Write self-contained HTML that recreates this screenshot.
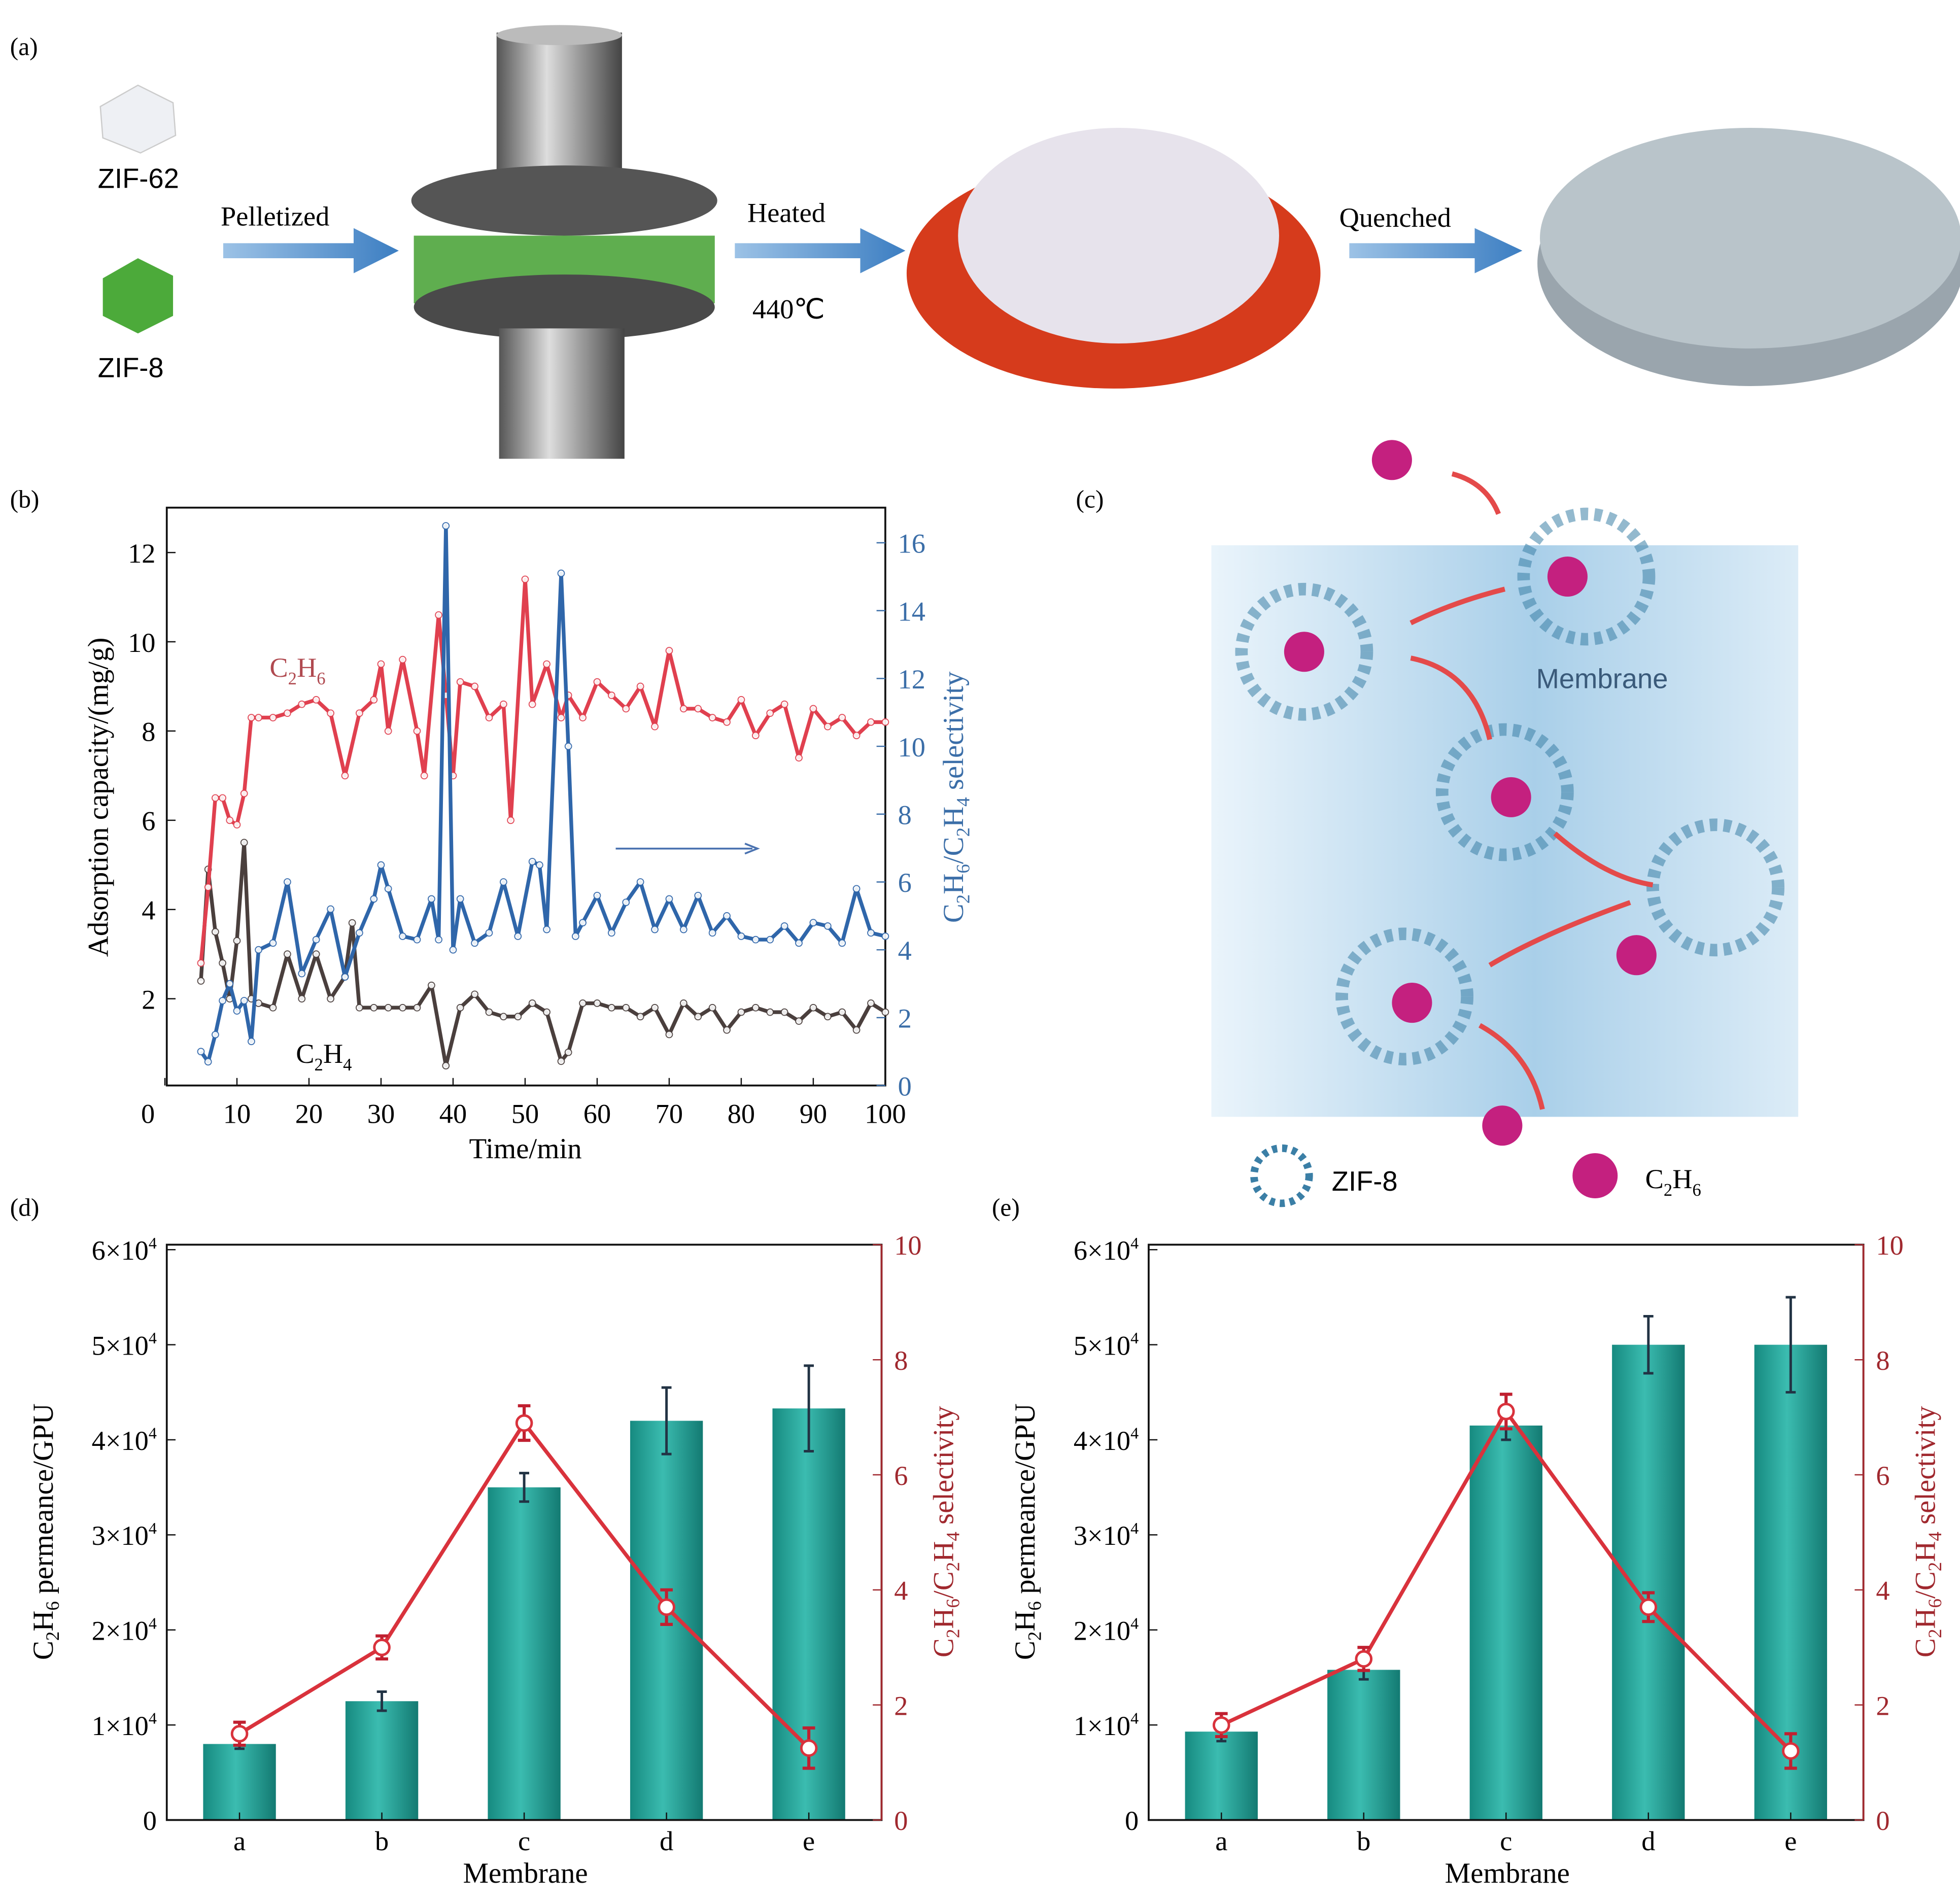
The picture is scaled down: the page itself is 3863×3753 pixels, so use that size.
<!DOCTYPE html>
<html><head><meta charset="utf-8">
<style>
html,body{margin:0;padding:0;background:#fff;}
svg{display:block;font-family:"Liberation Serif",serif;}
</style></head>
<body>
<svg id="root" width="3863" height="3753" viewBox="0 0 1563 1519" preserveAspectRatio="none" xmlns="http://www.w3.org/2000/svg">
<defs>
<linearGradient id="cyl" x1="0" x2="1"><stop offset="0" stop-color="#555"/><stop offset="0.4" stop-color="#ddd"/><stop offset="1" stop-color="#444"/></linearGradient>
<linearGradient id="bar" x1="0" x2="1"><stop offset="0" stop-color="#168a80"/><stop offset="0.45" stop-color="#3bbcb0"/><stop offset="1" stop-color="#137a72"/></linearGradient>
<linearGradient id="memb" x1="0" x2="1"><stop offset="0" stop-color="#eaf4fb"/><stop offset="0.55" stop-color="#a9cfe9"/><stop offset="1" stop-color="#dcecf7"/></linearGradient>
<linearGradient id="arr" x1="0" x2="1"><stop offset="0" stop-color="#9cc2e6"/><stop offset="1" stop-color="#3c7ec2"/></linearGradient>
</defs>

<!-- Panel (a) -->
<g>
<text x="8" y="44" font-size="20">(a)</text>
<polygon points="80,85 110,68 138,82 140,108 112,122 82,110" fill="#eef0f4" stroke="#ccc"/>
<text x="78" y="150" font-size="22" font-family="Liberation Sans,sans-serif">ZIF-62</text>
<polygon points="82,222 110,206 138,220 138,252 110,266 82,252" fill="#4caa3a"/>
<text x="78" y="301" font-size="22" font-family="Liberation Sans,sans-serif">ZIF-8</text>
<text x="176" y="180" font-size="22">Pelletized</text>
<polygon points="178,194 282,194 282,182 318,200 282,218 282,206 178,206" fill="url(#arr)"/>
<rect x="396" y="26" width="100" height="150" fill="url(#cyl)"/>
<ellipse cx="446" cy="28" rx="50" ry="8" fill="#bbb"/>
<ellipse cx="450" cy="160" rx="122" ry="28" fill="#555"/>
<rect x="330" y="188" width="240" height="54" fill="#5fae4f"/>
<ellipse cx="450" cy="245" rx="120" ry="26" fill="#4a4a4a"/>
<rect x="398" y="262" width="100" height="104" fill="url(#cyl)"/>
<text x="596" y="177" font-size="22">Heated</text>
<polygon points="586,194 686,194 686,182 722,200 686,218 686,206 586,206" fill="url(#arr)"/>
<text x="600" y="254" font-size="22">440℃</text>
<ellipse cx="888" cy="218" rx="165" ry="92" fill="#d63b1c"/>
<ellipse cx="892" cy="188" rx="128" ry="86" fill="#e7e3ec"/>
<text x="1068" y="181" font-size="22">Quenched</text>
<polygon points="1076,194 1176,194 1176,182 1214,200 1176,218 1176,206 1076,206" fill="url(#arr)"/>
<ellipse cx="1396" cy="210" rx="170" ry="98" fill="#9aa5ad"/>
<ellipse cx="1396" cy="190" rx="168" ry="88" fill="#b9c4ca"/>
</g>

<!-- Panel (c) -->
<g>
<text x="858" y="405" font-size="20">(c)</text>
<rect x="966" y="435" width="468" height="456" fill="url(#memb)"/>
<text x="1225" y="549" font-size="22" fill="#3a5a7a" font-family="Liberation Sans,sans-serif">Membrane</text>
<g fill="none" stroke="#3b7fa6" stroke-width="10" stroke-dasharray="6 5" opacity="0.55">
<circle cx="1265" cy="460" r="50"/><circle cx="1040" cy="520" r="50"/><circle cx="1200" cy="632" r="50"/><circle cx="1368" cy="708" r="50"/><circle cx="1120" cy="795" r="50"/>
</g>
<g fill="#c4207f">
<circle cx="1110" cy="367" r="16"/><circle cx="1250" cy="460" r="16"/><circle cx="1040" cy="520" r="16"/><circle cx="1205" cy="636" r="16"/><circle cx="1305" cy="762" r="16"/><circle cx="1126" cy="800" r="16"/><circle cx="1198" cy="898" r="16"/>
</g>
<g fill="none" stroke="#e44a4a" stroke-width="4">
<path d="M1158,378 Q1185,385 1195,410"/><path d="M1200,470 Q1160,480 1125,497"/><path d="M1125,525 Q1175,535 1188,590"/><path d="M1240,665 Q1280,700 1318,706"/><path d="M1300,720 Q1230,745 1188,770"/><path d="M1180,818 Q1220,840 1230,885"/>
</g>
<circle cx="1022" cy="938" r="22" fill="none" stroke="#3b7fa6" stroke-width="6" stroke-dasharray="4 4"/>
<text x="1062" y="950" font-size="22" font-family="Liberation Sans,sans-serif">ZIF-8</text>
<circle cx="1272" cy="938" r="18" fill="#c4207f"/>
<text x="1312" y="948" font-size="22">C<tspan font-size="14" dy="6">2</tspan><tspan dy="-6">H</tspan><tspan font-size="14" dy="6">6</tspan></text>
</g>

<g id="pb"></g>
<g id="pd"></g>
<g id="pe"></g>
</svg>

<script>
// ---- Panel (b) data ----
const bTimeRed=[5,6,7,8,9,10,11,12,13,15,17,19,21,23,25,27,29,30,31,33,35,36,38,39,40,41,43,45,47,48,50,51,53,55,56,58,60,62,64,66,68,70,72,74,76,78,80,82,84,86,88,90,92,94,96,98,100];
const bC2H6=[2.8,4.5,6.5,6.5,6.0,5.9,6.6,8.3,8.3,8.3,8.4,8.6,8.7,8.4,7.0,8.4,8.7,9.5,8.0,9.6,8.0,7.0,10.6,8.8,7.0,9.1,9.0,8.3,8.6,6.0,11.4,8.6,9.5,8.3,8.8,8.3,9.1,8.8,8.5,9.0,8.1,9.8,8.5,8.5,8.3,8.2,8.7,7.9,8.4,8.6,7.4,8.5,8.1,8.3,7.9,8.2,8.2];
const bTimeBlack=[5,6,7,8,9,10,11,12,13,15,17,19,21,23,25,26,27,29,31,33,35,37,39,41,43,45,47,49,51,53,55,56,58,60,62,64,66,68,70,72,74,76,78,80,82,84,86,88,90,92,94,96,98,100];
const bC2H4=[2.4,4.9,3.5,2.8,2.0,3.3,5.5,2.0,1.9,1.8,3.0,2.0,3.0,2.0,2.5,3.7,1.8,1.8,1.8,1.8,1.8,2.3,0.5,1.8,2.1,1.7,1.6,1.6,1.9,1.7,0.6,0.8,1.9,1.9,1.8,1.8,1.6,1.8,1.2,1.9,1.6,1.8,1.3,1.7,1.8,1.7,1.7,1.5,1.8,1.6,1.7,1.3,1.9,1.7];
const bTimeBlue=[5,6,7,8,9,10,11,12,13,15,17,19,21,23,25,27,29,30,31,33,35,37,38,39,40,41,43,45,47,49,51,52,53,55,56,57,58,60,62,64,66,68,70,72,74,76,78,80,82,84,86,88,90,92,94,96,98,100];
const bSel=[1,0.7,1.5,2.5,3,2.2,2.5,1.3,4.0,4.2,6,3.3,4.3,5.2,3.2,4.5,5.5,6.5,5.8,4.4,4.3,5.5,4.3,16.5,4,5.5,4.2,4.5,6,4.4,6.6,6.5,4.6,15.1,10,4.4,4.8,5.6,4.5,5.4,6,4.6,5.5,4.6,5.6,4.5,5,4.4,4.3,4.3,4.7,4.2,4.8,4.7,4.2,5.8,4.5,4.4];
const bXTicks=[0,10,20,30,40,50,60,70,80,90,100];
const bYTicks=[2,4,6,8,10,12];
const bY2Ticks=[0,2,4,6,8,10,12,14,16];
// ---- Panels (d),(e) data ----
const cats=["a","b","c","d","e"];
const dPerm=[0.8,1.25,3.5,4.2,4.33];
const dPermErr=[0.05,0.1,0.15,0.35,0.45];
const dSel=[1.5,3.0,6.9,3.7,1.25];
const dSelErr=[0.2,0.2,0.3,0.3,0.35];
const ePerm=[0.93,1.58,4.15,5.0,5.0];
const ePermErr=[0.1,0.1,0.15,0.3,0.5];
const eSel=[1.65,2.8,7.1,3.7,1.2];
const eSelErr=[0.2,0.2,0.3,0.25,0.3];
const permTicks=[0,1,2,3,4,5,6];
const selTicks=[0,2,4,6,8,10];

const NS="http://www.w3.org/2000/svg";
function mk(parent,tag,attrs,text){const e=document.createElementNS(NS,tag);for(const k in attrs)e.setAttribute(k,attrs[k]);if(text!==undefined)e.textContent=text;parent.appendChild(e);return e;}

// Panel b
(function(){
const g=document.getElementById('pb');
const X0=133,X1=706,Y0=866,Ytop=405;
const xs=t=>131.5+(706-131.5)*t/100;
const yL=v=>868-35.6*v;
const yR=v=>866-27.06*v;
let e;
e=mk(g,'text',{x:8,y:405,'font-size':20});e.textContent='(b)';
e=mk(g,'rect',{x:X0,y:Ytop,width:X1-X0,height:Y0-Ytop,fill:'none',stroke:'#111','stroke-width':1.5});

bXTicks.forEach(t=>{const x=xs(t);
 mk(g,'line',{x1:x,x2:x,y1:Y0,y2:Y0-6,stroke:'#111'});
 e=mk(g,'text',{x:t===0?118:x,y:896,'font-size':22,'text-anchor':'middle'},String(t));
 });
bYTicks.forEach(v=>{const y=yL(v);
 mk(g,'line',{x1:X0,x2:X0+7,y1:y,y2:y,stroke:'#111'});
 e=mk(g,'text',{x:124,y:y+8,'font-size':22,'text-anchor':'end'},String(v));
 });
bY2Ticks.forEach(v=>{const y=yR(v);
 mk(g,'line',{x1:X1,x2:X1-7,y1:y,y2:y,stroke:'#3b6ea8'});
 e=mk(g,'text',{x:716,y:y+8,'font-size':22,fill:'#3b6ea8'},String(v));
 });
e=mk(g,'text',{x:419,y:924,'font-size':23,'text-anchor':'middle'},'Time/min');

e=mk(g,'text',{transform:'translate(86,636) rotate(-90)','font-size':23,'text-anchor':'middle'},'Adsorption capacity/(mg/g)');

e=mk(g,'text',{transform:'translate(768,636) rotate(-90)','font-size':23,'text-anchor':'middle',fill:'#3b6ea8'});
e.innerHTML='C<tspan font-size="15" dy="5">2</tspan><tspan dy="-5">H</tspan><tspan font-size="15" dy="5">6</tspan><tspan dy="-5">/C</tspan><tspan font-size="15" dy="5">2</tspan><tspan dy="-5">H</tspan><tspan font-size="15" dy="5">4</tspan><tspan dy="-5"> selectivity</tspan>';

function series(ts,vs,yf,col,name){
 const pts=ts.map((t,i)=>xs(t).toFixed(1)+','+yf(vs[i]).toFixed(1)).join(' ');
 const l=mk(g,'polyline',{points:pts,fill:'none',stroke:col,'stroke-width':3,'stroke-linejoin':'round'});
 
 ts.forEach((t,i)=>{const c=mk(g,'circle',{cx:xs(t),cy:yf(vs[i]),r:2.6,fill:'#fff',stroke:col,'stroke-width':0.8,opacity:0.9});
 });
}
series(bTimeBlack,bC2H4,yL,'#4a3f3d','c2h4');
series(bTimeRed,bC2H6,yL,'#e0404f','c2h6');
series(bTimeBlue,bSel,yR,'#2f66aa','selectivity');
e=mk(g,'text',{x:215,y:540,'font-size':22,fill:'#b04a50'});
e.innerHTML='C<tspan font-size="14" dy="6">2</tspan><tspan dy="-6">H</tspan><tspan font-size="14" dy="6">6</tspan>';

e=mk(g,'text',{x:236,y:848,'font-size':22});
e.innerHTML='C<tspan font-size="14" dy="6">2</tspan><tspan dy="-6">H</tspan><tspan font-size="14" dy="6">4</tspan>';

e=mk(g,'line',{x1:491,x2:600,y1:677,y2:677,stroke:'#4a72b0','stroke-width':1.5});

mk(g,'polyline',{points:'594,673 604,677 594,681',fill:'none',stroke:'#4a72b0','stroke-width':1.5});
})();

// Panels d, e
function barPanel(id,label,X0,perm,permErr,sel,selErr){
const g=document.getElementById(id);
const X1=X0+570,Y0=1452,Yt=993;
const yP=v=>Y0-(Y0-997)*v/6;
const yS=v=>Y0-(Y0-Yt)*v/10;
const xc=i=>X0+58+113.5*i;
let e;
e=mk(g,'text',{x:X0-125,y:970,'font-size':20},label);

cats.forEach((c,i)=>{
 const x=xc(i);
 e=mk(g,'rect',{x:x-29,y:yP(perm[i]),width:58,height:Y0-yP(perm[i]),fill:'url(#bar)'});
 
 const a=yP(perm[i]+permErr[i]),b=yP(perm[i]-permErr[i]);
 e=mk(g,'path',{d:`M${x},${a}V${b}M${x-4},${a}H${x+4}M${x-4},${b}H${x+4}`,stroke:'#234',fill:'none','stroke-width':2});
 
 mk(g,'line',{x1:x,x2:x,y1:Y0,y2:Y0-6,stroke:'#111'});
 e=mk(g,'text',{x:x,y:1476,'font-size':22,'text-anchor':'middle'},c);
 
});
e=mk(g,'rect',{x:X0,y:Yt,width:570,height:Y0-Yt,fill:'none',stroke:'#111','stroke-width':1.5});

mk(g,'line',{x1:X1,x2:X1,y1:Yt,y2:Y0,stroke:'#a0282e','stroke-width':1.5});
permTicks.forEach(v=>{const y=yP(v);
 mk(g,'line',{x1:X0,x2:X0+7,y1:y,y2:y,stroke:'#111'});
 e=mk(g,'text',{x:X0-8,y:y+8,'font-size':22,'text-anchor':'end'});
 if(v===0)e.textContent='0';else e.innerHTML=v+'×10<tspan font-size="13" dy="-9">4</tspan>';
 });
selTicks.forEach(v=>{const y=yS(v);
 mk(g,'line',{x1:X1,x2:X1-7,y1:y,y2:y,stroke:'#a0282e'});
 e=mk(g,'text',{x:X1+10,y:y+8,'font-size':22,fill:'#a0282e'},String(v));
 });
const pts=sel.map((v,i)=>xc(i)+','+yS(v)).join(' ');
e=mk(g,'polyline',{points:pts,fill:'none',stroke:'#d9323c','stroke-width':3});

sel.forEach((v,i)=>{const x=xc(i),a=yS(v+selErr[i]),b=yS(v-selErr[i]);
 e=mk(g,'path',{d:`M${x},${a}V${b}M${x-5},${a}H${x+5}M${x-5},${b}H${x+5}`,stroke:'#c02030',fill:'none','stroke-width':2.5});
 
 e=mk(g,'circle',{cx:x,cy:yS(v),r:6,fill:'#fff',stroke:'#d9323c','stroke-width':2});
 });
e=mk(g,'text',{x:X0+286,y:1502,'font-size':23,'text-anchor':'middle'},'Membrane');

e=mk(g,'text',{transform:`translate(${X0-91},1222) rotate(-90)`,'font-size':23,'text-anchor':'middle'});
e.innerHTML='C<tspan font-size="15" dy="5">2</tspan><tspan dy="-5">H</tspan><tspan font-size="15" dy="5">6</tspan><tspan dy="-5"> permeance/GPU</tspan>';

e=mk(g,'text',{transform:`translate(${X1+57},1222) rotate(-90)`,'font-size':23,'text-anchor':'middle',fill:'#a0282e'});
e.innerHTML='C<tspan font-size="15" dy="5">2</tspan><tspan dy="-5">H</tspan><tspan font-size="15" dy="5">6</tspan><tspan dy="-5">/C</tspan><tspan font-size="15" dy="5">2</tspan><tspan dy="-5">H</tspan><tspan font-size="15" dy="5">4</tspan><tspan dy="-5"> selectivity</tspan>';

}
barPanel('pd','(d)',133,dPerm,dPermErr,dSel,dSelErr);
barPanel('pe','(e)',916,ePerm,ePermErr,eSel,eSelErr);
</script>
</body></html>
